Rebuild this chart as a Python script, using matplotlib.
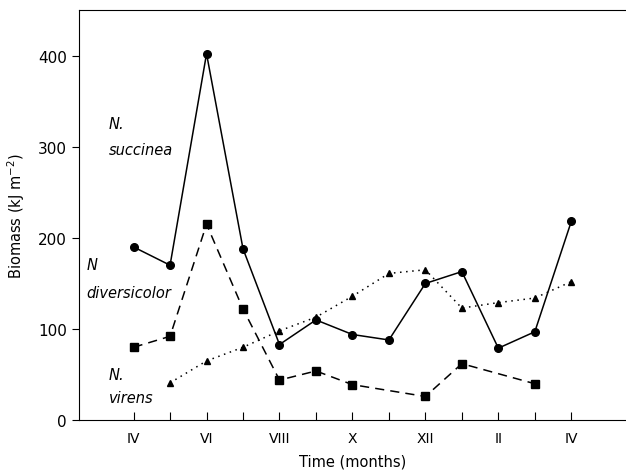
import matplotlib
matplotlib.use("Agg")
import matplotlib.pyplot as plt

month_labels = ["IV", "VI", "VIII", "X", "XII", "II", "IV"]
tick_months = [0, 2, 4, 6, 8, 10, 12]

succinea_x = [0, 1, 2, 3, 4, 5, 6, 7, 8, 9, 10, 11, 12]
succinea_y = [190, 170, 402, 188, 83, 110, 94, 88, 150, 163, 79, 97, 218]

diversicolor_x = [0, 1, 2, 3, 4, 5, 6, 8, 9, 11]
diversicolor_y = [80, 92, 215, 122, 44, 54, 39, 26, 62, 40]

virens_x = [1, 2, 3, 4, 5, 6, 7, 8, 9, 10, 11, 12]
virens_y = [41, 65, 80, 98, 113, 136, 161, 165, 123, 129, 134, 152]

fig = plt.figure(figsize=(6.26, 4.77), dpi=100)
ax = fig.add_axes([0.126, 0.117, 0.874, 0.86])

ax.plot(succinea_x, succinea_y, '-', color='black', lw=1.1,
        marker='o', ms=5.5)
ax.plot(diversicolor_x, diversicolor_y, linestyle=(0, (6, 4)), color='black', lw=1.1,
        marker='s', ms=5.5)
ax.plot(virens_x, virens_y, linestyle=(0, (1, 3)), color='black', lw=1.1,
        marker='^', ms=5)

ax.set_xlim(-1.5, 13.5)
ax.set_ylim(0, 450)
ax.set_xticks(range(0, 13))
ax.set_xticklabels([month_labels[tick_months.index(i)] if i in tick_months else "" for i in range(13)])
ax.set_yticks([0, 100, 200, 300, 400])
ax.tick_params(axis='x', direction='in', length=6, pad=8, labelsize=10)
ax.tick_params(axis='y', direction='out', length=5, labelsize=11)
ax.spines['right'].set_visible(False)

ax.set_ylabel("Biomass (kJ m$^{-2}$)", fontsize=10.5, labelpad=8)
ax.set_xlabel("Time (months)", fontsize=10.5, labelpad=6)

kw = dict(style='italic', fontsize=10.5, va='center', ha='left')
ax.text(-0.68, 325, "N.", **kw)
ax.text(-0.68, 297, "succinea", **kw)
ax.text(-1.3, 171, "N", **kw)
ax.text(-1.3, 140, "diversicolor", **kw)
ax.text(-0.68, 50, "N.", **kw)
ax.text(-0.68, 25, "virens", **kw)

fig.savefig("out.png", dpi=100)
